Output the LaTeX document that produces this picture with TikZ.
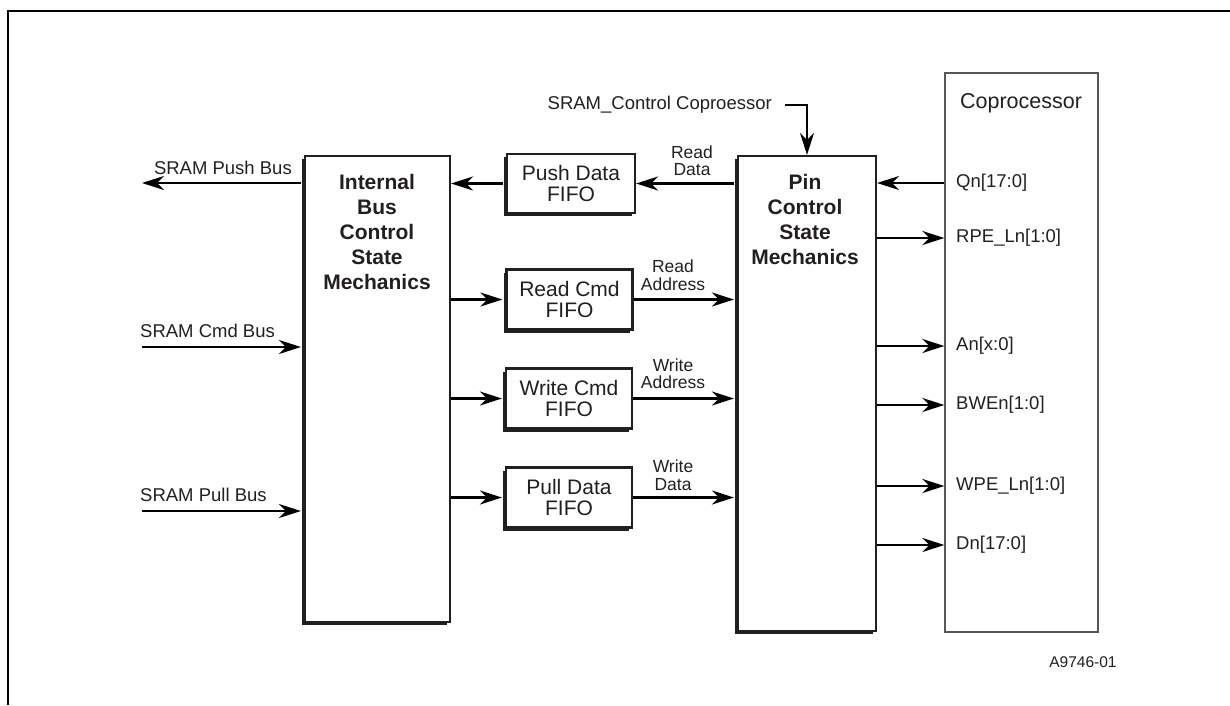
\documentclass[tikz,border=0pt]{standalone}
\usepackage{fontspec}
\setmainfont{Liberation Sans}
\usetikzlibrary{arrows.meta,shadows}
\definecolor{ink}{HTML}{231F20}
\begin{document}
\begin{tikzpicture}[x=1pt,y=-1pt,
  every node/.style={text=ink, inner sep=0pt},
  blk/.style={draw=ink, line width=2.2pt, fill=white,
    drop shadow={shadow xshift=-3pt, shadow yshift=-3pt, fill=ink, opacity=1}},
  fifo/.style={blk, minimum width=126pt, minimum height=60pt, align=center,
    font=\fontsize{21}{21}\selectfont},
  conn/.style={line width=2.8pt, draw=black, -{Stealth[length=22pt,width=14pt,inset=7pt]}},
  lbl/.style={font=\fontsize{18.5}{18.5}\selectfont},
  sml/.style={font=\fontsize{17.5}{17.5}\selectfont, align=center},
  boldtxt/.style={font=\fontsize{21}{25}\bfseries\selectfont, align=center},
]
\useasboundingbox (0,0) rectangle (1230,705);
% frame
\draw[line width=2.5pt] (8,705) -- (8,11) -- (1230,11);

% main blocks
\node[blk, minimum width=145pt, minimum height=466pt] (ib) at (377.5,389) {};
\node[blk, minimum width=138pt, minimum height=475pt] (pin) at (807,393.5) {};
\node[draw=ink!75, line width=1.3pt, minimum width=153pt, minimum height=559pt] (cop) at (1021.5,352.5) {};
\coordinate (ibw) at ([xshift=-3pt]ib.west);
\coordinate (pinw) at ([xshift=-3pt]pin.west);

\node[boldtxt] (ibt) at (377,232) {Internal\\Bus\\Control\\State\\Mechanics};
\node[boldtxt] (pint) at (805,219) {Pin\\Control\\State\\Mechanics};
\node[font=\fontsize{21.5}{21.5}\selectfont] (copt) at (1021,103) {Coprocessor};

% FIFOs
\node[fifo, minimum width=128pt, minimum height=59pt] (push) at (571,183.5) {Push Data\\FIFO};
\node[fifo] (rc) at (569.5,299.5) {Read Cmd\\FIFO};
\node[fifo] (wc) at (569,398.5) {Write Cmd\\FIFO};
\node[fifo] (pd) at (569,497.5) {Pull Data\\FIFO};

% FIFO connectors
\draw[conn] (pinw |- push) -- (push.east);
\draw[conn] ([xshift=-3pt]push.west) -- (ib.east |- push);
\draw[conn] (ib.east |- rc) -- ([xshift=-3pt]rc.west);
\draw[conn] (rc.east) -- (pinw |- rc);
\draw[conn] (ib.east |- wc) -- ([xshift=-3pt]wc.west);
\draw[conn] (wc.east) -- (pinw |- wc);
\draw[conn] (ib.east |- pd) -- ([xshift=-3pt]pd.west);
\draw[conn] (pd.east) -- (pinw |- pd);

\node[sml] (rdl) at (692,160.5) {Read\\Data};
\node[sml] (ral) at (673,275) {Read\\Address};
\node[sml] (wal) at (673,373.5) {Write\\Address};
\node[sml] (wdl) at (673,475) {Write\\Data};

% SRAM buses
\node[lbl, anchor=east] (pushl) at (292,168) {SRAM Push Bus};
\coordinate (pushend) at (142,183);
\draw[conn] (ibw |- pushend) -- (pushend);
\node[lbl, anchor=west] (cmdl) at (140,331) {SRAM Cmd Bus};
\coordinate (cmdstart) at (142,347);
\draw[conn] (cmdstart) -- (ibw |- cmdstart);
\node[lbl, anchor=west] (pulll) at (140,495) {SRAM Pull Bus};
\coordinate (pullstart) at (142,511);
\draw[conn] (pullstart) -- (ibw |- pullstart);

% control input
\node[lbl, anchor=east] (ctll) at (772,105) {SRAM\_Control Coproessor};
\coordinate (ctlstart) at (785,105);
\draw[conn] (ctlstart) -| (pin.north);

% coprocessor pins
\node[lbl, anchor=west] (qn) at (956,183) {Qn[17:0]};
\node[lbl, anchor=west] (rpe) at (956,238) {RPE\_Ln[1:0]};
\node[lbl, anchor=west] (an) at (956,346) {An[x:0]};
\node[lbl, anchor=west] (bwe) at (956,405) {BWEn[1:0]};
\node[lbl, anchor=west] (wpe) at (956,486) {WPE\_Ln[1:0]};
\node[lbl, anchor=west] (dn) at (956,545) {Dn[17:0]};
\draw[conn] (cop.west |- qn) -- (pin.east |- qn);
\draw[conn] (pin.east |- rpe) -- (cop.west |- rpe);
\draw[conn] (pin.east |- an) -- (cop.west |- an);
\draw[conn] (pin.east |- bwe) -- (cop.west |- bwe);
\draw[conn] (pin.east |- wpe) -- (cop.west |- wpe);
\draw[conn] (pin.east |- dn) -- (cop.west |- dn);

\node[font=\fontsize{15.5}{15.5}\selectfont] (fig) at (1083,662) {A9746-01};
\end{tikzpicture}
\end{document}
